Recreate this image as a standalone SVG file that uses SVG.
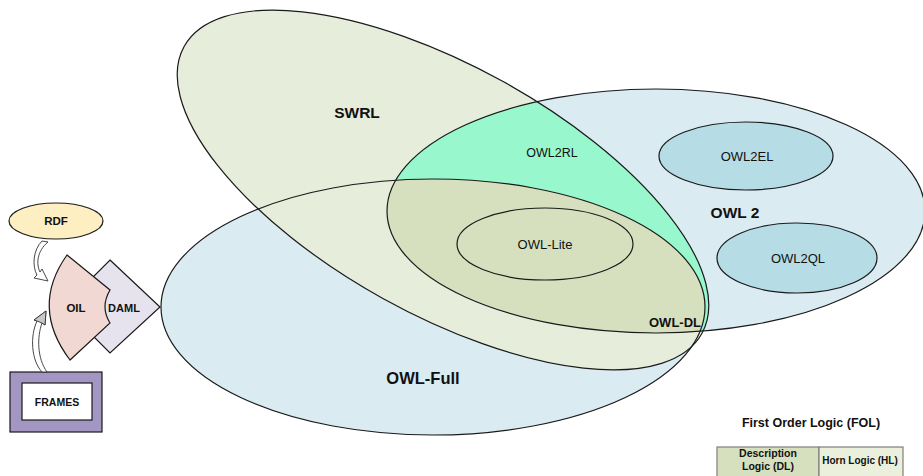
<svg xmlns="http://www.w3.org/2000/svg" width="923" height="476" viewBox="0 0 923 476">
<style>
text{font-family:"Liberation Sans",Arial,sans-serif;fill:#111;text-anchor:middle;dominant-baseline:central}
.b{font-weight:bold}
.ol{fill:none;stroke:#1a1a1a;stroke-width:1.2}
.sk{stroke:#1a1a1a;stroke-width:1.2}
</style>
<defs>
<clipPath id="cSWRL"><ellipse cx="0" cy="0" rx="296" ry="124" transform="translate(443,190) rotate(29)"/></clipPath>
<clipPath id="cOWL2"><ellipse cx="656" cy="211" rx="269" ry="122"/></clipPath>
</defs>
<rect width="923" height="476" fill="#fff"/>

<!-- region fills -->
<g id="fills">
<ellipse cx="433" cy="307" rx="272" ry="128" fill="#DAEBF2"/>
<ellipse cx="656" cy="211" rx="269" ry="122" fill="#DAEBF2"/>
<ellipse cx="0" cy="0" rx="296" ry="124" transform="translate(443,190) rotate(29)" fill="#E7EDDB"/>
<g clip-path="url(#cSWRL)"><ellipse cx="656" cy="211" rx="269" ry="122" fill="#98F7CD"/></g>
<g clip-path="url(#cOWL2)"><g clip-path="url(#cSWRL)"><ellipse cx="433" cy="307" rx="272" ry="128" fill="#D7E0BE"/></g></g>
</g>

<g id="owl-full">
<ellipse class="ol" cx="433" cy="307" rx="272" ry="128"/>
<text class="b" x="423" y="378" font-size="16.5">OWL-Full</text>
</g>
<g id="owl2">
<ellipse class="ol" cx="656" cy="211" rx="269" ry="122"/>
<text class="b" x="735" y="212" font-size="15.5">OWL 2</text>
</g>
<g id="swrl">
<ellipse class="ol" cx="0" cy="0" rx="296" ry="124" transform="translate(443,190) rotate(29)"/>
<text class="b" x="357" y="112" font-size="15.5">SWRL</text>
</g>
<g id="owl2rl">
<text x="552" y="153" font-size="12.5">OWL2RL</text>
</g>
<g id="owl-dl">
<text class="b" x="675" y="322" font-size="13">OWL-DL</text>
</g>
<g id="owl-lite">
<ellipse class="sk" cx="545" cy="244" rx="88" ry="36" fill="#D7E0BE"/>
<text x="545" y="244" font-size="13">OWL-Lite</text>
</g>
<g id="owl2el">
<ellipse class="sk" cx="746" cy="156" rx="87" ry="34" fill="#B6DCE6"/>
<text x="747" y="156" font-size="13">OWL2EL</text>
</g>
<g id="owl2ql">
<ellipse class="sk" cx="797" cy="258" rx="80" ry="35" fill="#B6DCE6"/>
<text x="798" y="258" font-size="13">OWL2QL</text>
</g>

<!-- left side -->
<g id="rdf">
<ellipse class="sk" cx="56" cy="221" rx="47" ry="18" fill="#FDEFC2"/>
<text class="b" x="56" y="221" font-size="11.5">RDF</text>
</g>
<g id="daml">
<path class="sk" d="M110,260 L160,307 L110,353 L80,323 L80,290 Z" fill="#E6E3EE" stroke-linejoin="miter"/>
<text class="b" x="124" y="308" font-size="11">DAML</text>
</g>
<g id="oil">
<path class="sk" d="M67,255 L110,290 Q100,307 110,323 L70,360 Q30,307 67,255 Z" fill="#F2D8D2"/>
<text class="b" x="76" y="308" font-size="11.5">OIL</text>
</g>
<g id="frames">
<rect class="sk" x="10" y="372" width="92" height="60" fill="#A496C2"/>
<rect class="sk" x="22" y="383" width="70" height="37" fill="#fff" stroke-width="1"/>
<text class="b" x="57" y="402" font-size="10.5">FRAMES</text>
</g>

<g id="connectors">
<path d="M42,241 C33,250 32,266 37,275 L34,278 L48,281 L42,269 L40,272 C36,264 37,251 48,242 Z" fill="#fff" stroke="#333" stroke-width="0.9" stroke-linejoin="round"/>
<path d="M42,372 C31,360 30,336 37,321 L34,320 L46,311 L45,325 L42,323 C37,337 37,358 47,372 Z" fill="#fff" stroke="#333" stroke-width="0.9" stroke-linejoin="round"/>
<path d="M37,321 L34,320 L46,311 L45,325 L42,323 Z" fill="#C8C8C8" stroke="#333" stroke-width="0.9" stroke-linejoin="round"/>
</g>

<!-- FOL table -->
<g id="fol">
<text class="b" x="811" y="423" font-size="12.5">First Order Logic (FOL)</text>
</g>
<g id="dl">
<rect x="717" y="447" width="102" height="36" fill="#D7E0BE" stroke="#7f7f7f" stroke-width="1.2"/>
<text class="b" x="768" y="453" font-size="10.5">Description</text>
<text class="b" x="768" y="466" font-size="10.5">Logic (DL)</text>
</g>
<g id="hl">
<rect x="819" y="447" width="84" height="36" fill="#EAF0DC" stroke="#7f7f7f" stroke-width="1.2"/>
<text class="b" x="860" y="460" font-size="10">Horn Logic (HL)</text>
</g>
</svg>
